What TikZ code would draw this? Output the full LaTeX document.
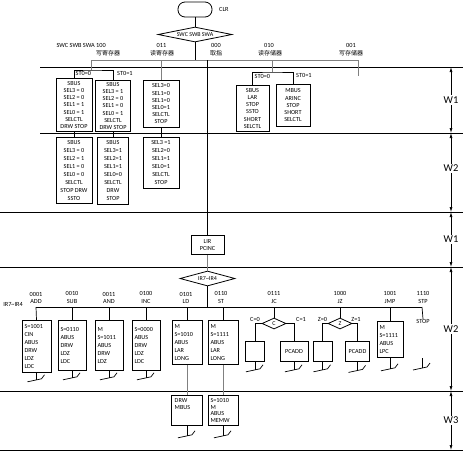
\documentclass[tikz,border=0pt]{standalone}
\usepackage{fontspec}
\setmainfont{Carlito}
\newfontfamily\cjk{Noto Sans CJK SC}
\usetikzlibrary{shapes.geometric,arrows.meta}
\begin{document}
\begin{tikzpicture}[x=1pt,y=-1pt,
  every node/.style={inner sep=0pt},
  cline/.style={line width=0.7pt},
  gline/.style={line width=0.9pt, draw=black!50},
  secline/.style={line width=0.8pt},
  smallf/.style={font=\fontsize{6.3}{7.3}\selectfont},
  cjkf/.style={font=\cjk\fontsize{6}{6.5}\selectfont},
  cbox/.style={draw, line width=0.8pt, align=center, anchor=north, inner ysep=1.5pt,
     font=\fontsize{6.2}{7.2}\selectfont, minimum width=#1pt},
  cboxb/.style={cbox=#1, font=\fontsize{6.2}{8}\selectfont},
  lbox/.style={draw, line width=0.8pt, align=left, anchor=north, inner xsep=2.5pt, inner ysep=2pt,
     font=\fontsize{6.2}{8}\selectfont, text width=#1pt},
  dmd/.style={draw, diamond, line width=0.8pt, inner sep=0pt, font=\fontsize{6}{6.5}\selectfont},
  ovalbox/.style={draw, rounded corners=7pt, line width=0.8pt, minimum width=34pt, minimum height=15pt},
  wlab/.style={font=\fontsize{10.5}{11}\selectfont, fill=white, inner sep=1.5pt},
  wdim/.style={line width=0.7pt, {Latex[length=5pt,width=3pt]}-{Latex[length=5pt,width=3pt]}},
  endmark/.pic={\draw[line width=0.7pt] (-9,2) -- (5,-1) -- (8,-5);}
]
\useasboundingbox (0,0) rectangle (465,451);

% ---------- top ----------
\node[ovalbox] (clr) at (195,9.5) {};
\node[smallf, anchor=west] (clrt) at (219,9.5) {CLR};
\node[dmd, minimum width=74pt, minimum height=15pt, shape aspect=4.9] (sw) at (195,34.5) {SWC SWB SWA};
\coordinate (br) at (195,60);
\coordinate (b100) at (91,60);
\coordinate (b011) at (161,60);
\coordinate (b000) at (207.5,60);
\coordinate (b010) at (272,60);
\coordinate (b001) at (358,60);
\draw[cline] (clr) -- (sw);
\draw[cline] (sw.south) -- (br);
\draw[gline] (b100) -- (b001);

\node[smallf, anchor=east] (swl) at (106,45.5) {SWC SWB SWA 100};
\node[cjkf] (c100) at (108,53) {写寄存器};
\node[smallf] (n011) at (161.5,45.5) {011};
\node[cjkf] (c011) at (162,53) {读寄存器};
\node[smallf] (n000) at (216,45.5) {000};
\node[cjkf] (c000) at (216,53) {取指};
\node[smallf] (n010) at (269,45.5) {010};
\node[cjkf] (c010) at (270,53) {读存储器};
\node[smallf] (n001) at (351,45.5) {001};
\node[cjkf] (c001) at (351,53) {写存储器};

% ---------- section lines ----------
\draw[secline] (40,67) -- (463,67);
\draw[secline] (40,133) -- (463,133);
\draw[secline] (0,212) -- (463,212);
\draw[secline] (0,267) -- (463,267);
\draw[secline] (0,391) -- (463,391);
\draw[secline] (0,450) -- (463,450);

% ---------- W1 (first) ----------
\node[cbox=36, minimum height=53pt] (b11) at (74,78) {SBUS\\SEL3 = 0\\SEL2 = 0\\SEL1 = 1\\SEL0 = 1\\SELCTL\\DRW STOP};
\node[cbox=35, minimum height=51pt] (b12) at (113,80) {SBUS\\SEL3 = 1\\SEL2 = 0\\SEL1 = 0\\SEL0 = 1\\SELCTL\\DRW STOP};
\node[cbox=36, minimum height=47pt] (b13) at (161,80) {SEL3=0\\SEL1=0\\SEL1=0\\SEL0=1\\SELCTL\\STOP};
\node[cbox=33, minimum height=46pt] (b14) at (252.5,85) {SBUS\\LAR\\STOP\\SSTO\\SHORT\\SELCTL};
\node[cbox=34, minimum height=42pt] (b15) at (293,84) {MBUS\\ARINC\\STOP\\SHORT\\SELCTL};

\coordinate (k100) at (91,70);
\coordinate (k010) at (272,72);
\draw[gline] (b100) -- (k100);
\draw[cline] (b11.north) |- (k100) -| (b12.north);
\draw[gline] (b011) -- (b13.north);
\draw[gline] (b010) -- (k010);
\draw[cline] (b14.north) |- (k010) -| (b15.north);
\coordinate (e001) at (358,76);
\draw[gline] (b001) -- (e001);

\node[smallf, anchor=north west] (s00) at (75.5,71.3) {ST0=0};
\node[smallf, anchor=north west] (s01) at (117,71.3) {ST0=1};
\node[smallf, anchor=north west] (s10) at (254.5,73.8) {ST0=0};
\node[smallf, anchor=north west] (s11) at (296,73.3) {ST0=1};

% ---------- W2 (first) ----------
\node[cboxb=36, minimum height=66pt] (b21) at (74,137) {SBUS\\SEL3 = 0\\SEL2 = 1\\SEL1 = 0\\SEL0 = 0\\SELCTL\\STOP DRW\\SSTO};
\node[cboxb=31, minimum height=67pt] (b22) at (113,137) {SBUS\\SEL3=1\\SEL2=1\\SEL1=1\\SEL0=0\\SELCTL\\DRW\\STOP};
\node[cboxb=36, minimum height=51pt] (b23) at (161,137) {SEL3 =1\\SEL2=0\\SEL1=1\\SEL0=1\\SELCTL\\STOP};
\draw[cline] (b11.south) -- (b21.north);
\draw[cline] (b12.south) -- (b22.north);
\draw[cline] (b13.south) -- (b23.north);

% ---------- fetch ----------
\node[cbox=33, minimum height=19pt] (lir) at (207.5,235) {LIR\\PCINC};
\draw[cline] (b000) -- (lir.north);
\node[dmd, minimum width=55pt, minimum height=15pt, shape aspect=3.7] (ir) at (207.5,278.5) {IR7\textasciitilde IR4};
\draw[gline] (lir.south) -- (ir.north);
\coordinate (irb) at (207.5,307);
\draw[cline] (ir.south) -- (irb);
\node[smallf, anchor=east] (irl) at (23,304) {IR7\textasciitilde IR4};

% ---------- opcode branch ----------
\coordinate (c1) at (36,307);
\coordinate (c2) at (72,307);
\coordinate (c3) at (109,307);
\coordinate (c4) at (146,307);
\coordinate (c5) at (187,307);
\coordinate (c6) at (223,307);
\coordinate (c7) at (274,307);
\coordinate (c8) at (340,307);
\coordinate (c9) at (390,307);
\coordinate (c10) at (422,307);
\draw[cline] (c1) -- (c10);

\node[smallf, align=center, anchor=south] (o1) at (36,303.5) {0001\\ADD};
\node[smallf, align=center, anchor=south] (o2) at (72,303.5) {0010\\SUB};
\node[smallf, align=center, anchor=south] (o3) at (109,303.5) {0011\\AND};
\node[smallf, align=center, anchor=south] (o4) at (146,303.5) {0100\\INC};
\node[smallf, align=center, anchor=south] (o5) at (186,303.5) {0101\\LD};
\node[smallf, align=center, anchor=south] (o6) at (221,303.5) {0110\\ST};
\node[smallf, align=center, anchor=south] (o7) at (274,303.5) {0111\\JC};
\node[smallf, align=center, anchor=south] (o8) at (340,303.5) {1000\\JZ};
\node[smallf, align=center, anchor=south] (o9) at (390,303.5) {1001\\JMP};
\node[smallf, align=center, anchor=south] (o10) at (423,303.5) {1110\\STP};

% ---------- W2 (execute) ----------
\node[lbox=24, minimum height=52pt] (add) at (36.5,320) {S=1001\\CIN\\ABUS\\DRW\\LDZ\\LDC};
\node[lbox=23, minimum height=50pt] (sub) at (72,320) {S=0110\\ABUS\\DRW\\LDZ\\LDC};
\node[lbox=23, minimum height=50pt] (and) at (109,320) {M\\S=1011\\ABUS\\DRW\\LDZ};
\node[lbox=23, minimum height=50pt] (inc) at (146,320) {S=0000\\ABUS\\DRW\\LDZ\\LDC};
\node[lbox=25, minimum height=44pt] (ld) at (187,320) {M\\S=1010\\ABUS\\LAR\\LONG};
\node[lbox=25, minimum height=44pt] (st) at (223,320) {M\\S=1111\\ABUS\\LAR\\LONG};
\node[lbox=21, minimum height=36pt] (jmp) at (390,321) {M\\S=1111\\ABUS\\LPC};
\draw[cline] (c1) -- (add.north);
\draw[cline] (c2) -- (sub.north);
\draw[cline] (c3) -- (and.north);
\draw[cline] (c4) -- (inc.north);
\draw[cline] (c5) -- (ld.north);
\draw[cline] (c6) -- (st.north);
\draw[cline] (c9) -- (jmp.north);

% JC
\node[dmd, minimum width=24pt, minimum height=11pt, shape aspect=2.2] (dc) at (274,323.5) {C};
\node[cbox=19, minimum height=20pt] (jc0) at (255,341) {};
\node[cbox=28, minimum height=20pt] (jc1) at (294,341) {PCADD};
\draw[cline] (c7) -- (dc.north);
\draw[cline] (dc.west) -| (jc0.north);
\draw[cline] (dc.east) -| (jc1.north);
\node[smallf, anchor=south] (lc0) at (255,322) {C=0};
\node[smallf, anchor=south] (lc1) at (301,322) {C=1};

% JZ
\node[dmd, minimum width=24pt, minimum height=11pt, shape aspect=2.2] (dz) at (340,323.5) {Z};
\node[cbox=19, minimum height=20pt] (jz0) at (322.5,341) {};
\node[cbox=24, minimum height=20pt, line width=1.4pt] (jz1) at (357.5,341) {PCADD};
\draw[cline] (c8) -- (dz.north);
\draw[cline] (dz.west) -| (jz0.north);
\draw[cline] (dz.east) -| (jz1.north);
\node[smallf, anchor=south] (lz0) at (322.5,322) {Z=0};
\node[smallf, anchor=south] (lz1) at (356,322) {Z=1};

% STP
\node[smallf, anchor=north] (stp) at (423,319) {STOP};
\draw[cline] (c10) -- (stp.north);
\coordinate (stpb) at (422,358);

% end marks
\draw[cline] (add.south) -- ++(0,7) coordinate (e1);
\draw[cline] (sub.south) -- ++(0,7) coordinate (e2);
\draw[cline] (and.south) -- ++(0,7) coordinate (e3);
\draw[cline] (inc.south) -- ++(0,7) coordinate (e4);
\draw[cline] (jc0.south) -- ++(0,8) coordinate (e5);
\draw[cline] (jc1.south) -- ++(0,8) coordinate (e6);
\draw[cline] (jz0.south) -- ++(0,8) coordinate (e7);
\draw[cline] (jz1.south) -- ++(0,8) coordinate (e8);
\draw[cline] (jmp.south) -- ++(0,11) coordinate (e9);
\draw[cline] (stpb) -- ++(0,10) coordinate (e10);
\foreach \e in {e1,e2,e3,e4,e5,e6,e7,e8,e9,e10} { \pic at (\e) {endmark}; }

% ---------- W3 ----------
\node[draw, line width=0.8pt, minimum width=31pt, minimum height=30pt, anchor=north] (w3a) at (187,395) {};
\node[smallf, align=left, anchor=north west, font=\fontsize{6.2}{7.5}\selectfont] (w3at) at (174.5,398) {DRW\\MBUS};
\node[lbox=25, minimum height=30pt, font=\fontsize{6.2}{6.8}\selectfont] (w3b) at (223,395) {S=1010\\M\\ABUS\\MEMW};
\draw[gline] (ld.south) -- (w3a.north);
\draw[gline] (st.south) -- (w3b.north);
\draw[cline] (w3a.south) -- ++(0,10) coordinate (e11);
\draw[cline] (w3b.south) -- ++(0,10) coordinate (e12);
\pic at (e11) {endmark};
\pic at (e12) {endmark};

% ---------- W dimension arrows ----------
\draw[wdim] (451,67) -- (451,133) node[wlab, pos=0.5] (w1a) {W1};
\draw[wdim] (451,133) -- (451,212) node[wlab, pos=0.45] (w2a) {W2};
\draw[wdim] (451,212) -- (451,267) node[wlab, pos=0.5] (w1b) {W1};
\draw[wdim] (451,267) -- (451,391) node[wlab, pos=0.5] (w2b) {W2};
\draw[wdim] (451,391) -- (451,450) node[wlab, pos=0.5] (w3l) {W3};
\end{tikzpicture}
\end{document}
